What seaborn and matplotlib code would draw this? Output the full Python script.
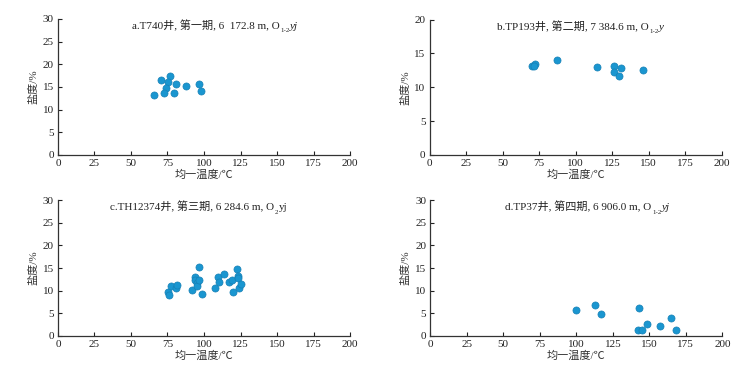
import matplotlib.pyplot as plt
import pandas as pd
import seaborn as sns

sns.set_style("ticks")
plt.rcParams['font.family'] = ['Liberation Serif', 'Noto Sans CJK SC']

# panel a: T740
a_temp = [65.8, 70.3, 76.5, 75.3, 74.0, 72.4, 79.7, 81.1, 87.7, 96.6, 97.9]
a_salt = [13.3, 16.5, 17.5, 16.1, 14.8, 13.6, 13.7, 15.7, 15.3, 15.6, 14.0]

# panel b: TP193
b_temp = [70.5, 72.1, 71.5, 87.1, 114.7, 126.6, 126.3, 131.4, 129.5, 146.4]
b_salt = [13.2, 13.4, 13.1, 14.0, 12.96, 13.15, 12.2, 12.8, 11.7, 12.56]

# panel c: TH12374
c_temp = [75.6, 76.3, 77.4, 80.6, 81.5, 92.0, 93.6, 93.8, 95.0, 95.4, 96.4, 96.4, 98.6,
          107.3, 109.3, 110.5, 113.9, 117.1, 119.4, 120.0, 122.8, 123.5, 123.5, 123.7, 125.3]
c_salt = [9.6, 9.1, 11.05, 10.5, 11.2, 10.1, 13.1, 12.4, 11.6, 11.1, 15.25, 12.4, 9.3,
          10.6, 12.9, 12.0, 13.6, 12.0, 12.4, 9.6, 14.7, 13.2, 12.7, 10.6, 11.5]

# panel d: TP37
d_temp = [99.9, 113.1, 117.2, 143.2, 142.1, 144.8, 148.2, 157.3, 164.9, 168.1]
d_salt = [5.8, 6.85, 4.8, 6.2, 1.33, 1.33, 2.5, 2.06, 3.83, 1.33]

# title pieces: main text, subscript, trailing formation code
title_main = ["a.T740井, 第一期, 6  172.8 m, O", "b.TP193井, 第二期, 7 384.6 m, O",
              "c.TH12374井, 第三期, 6 284.6 m, O", "d.TP37井, 第四期, 6 906.0 m, O"]
title_sub = ["1-2", "1-2", "2", "1-2"]
title_tail = ["yj", "y", "yj", "yj"]
tail_italic = [True, True, False, True]
title_x = [0.253, 0.231, 0.178, 0.257]

ymaxs = [30, 20, 30, 30]
panels = [(a_temp, a_salt), (b_temp, b_salt), (c_temp, c_salt), (d_temp, d_salt)]

fig = plt.figure(figsize=(7.47, 3.78), dpi=100)
positions = [
    [0.0776, 0.590, 0.391, 0.360],
    [0.575, 0.590, 0.391, 0.358],
    [0.0776, 0.112, 0.391, 0.358],
    [0.576, 0.112, 0.391, 0.358],
]

for i, (tx, sy) in enumerate(panels):
    ax = fig.add_axes(positions[i])
    df = pd.DataFrame({"temp": tx, "salt": sy})
    sns.scatterplot(data=df, x="temp", y="salt", ax=ax, color="#1a96d0",
                    edgecolor="#1680b5", linewidth=0.5, s=26, zorder=3)
    ax.set_xlim(0, 200)
    ax.set_ylim(0, ymaxs[i])
    ax.set_xticks(range(0, 201, 25))
    ax.set_yticks(range(0, ymaxs[i] + 1, 5))
    sns.despine(ax=ax)
    ax.tick_params(direction="in", length=3, width=0.8, labelsize=8, pad=3, colors="#222222")
    for sp in ax.spines.values():
        sp.set_linewidth(0.9)
        sp.set_color("#333333")
    ax.set_xlabel("均一温度/℃", fontsize=8, labelpad=1, color="#333333")
    ax.set_ylabel("盐度/%", fontsize=8, labelpad=3, color="#333333")

    # title built from pieces so CJK fallback works and the subscript sits right
    t1 = ax.text(title_x[i], 0.925, title_main[i], transform=ax.transAxes,
                 ha="left", va="baseline", fontsize=8, color="#222222")
    t2 = ax.annotate(title_sub[i], xy=(1, 0), xycoords=t1, xytext=(0.3, -1.5),
                     textcoords="offset points", ha="left", va="bottom",
                     fontsize=5, color="#222222")
    fig.canvas.draw()
    w2 = t2.get_window_extent().width * 72 / fig.dpi
    ax.annotate(title_tail[i], xy=(1, 0), xycoords=t1, xytext=(w2 + 0.8, 0),
                textcoords="offset points", ha="left", va="bottom", fontsize=8,
                style="italic" if tail_italic[i] else "normal", color="#222222")

fig.savefig("out.png", dpi=100)
